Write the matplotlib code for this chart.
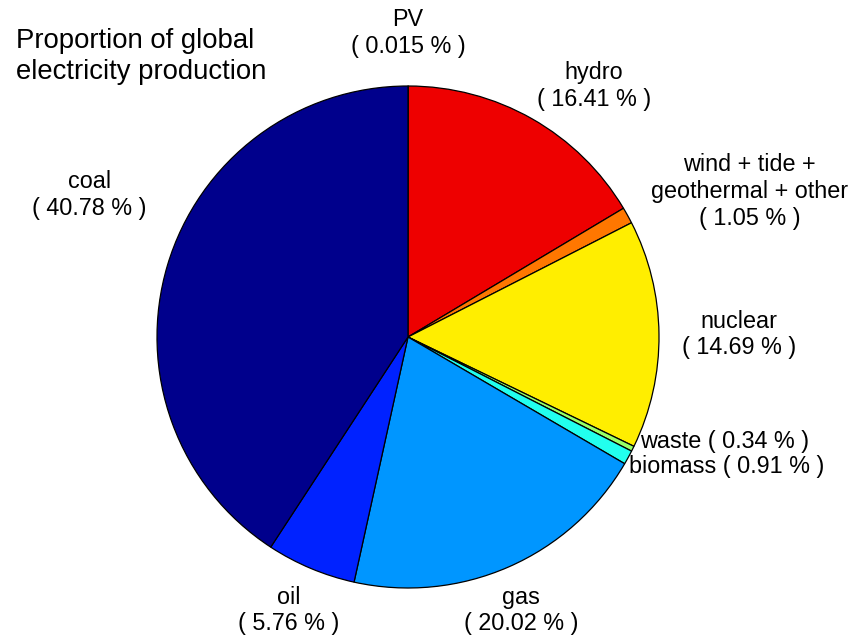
import matplotlib
matplotlib.use("Agg")
from matplotlib import pyplot as plt

plt.rcParams['font.family'] = ['Liberation Sans', 'DejaVu Sans']

# shares of global electricity production, clockwise from the top
sources = ['PV', 'hydro', 'wind + tide +\ngeothermal + other', 'nuclear',
           'waste', 'biomass', 'gas', 'oil', 'coal']
shares = [0.015, 16.41, 1.05, 14.69, 0.34, 0.91, 20.02, 5.76, 40.78]
share_text = ['0.015', '16.41', '1.05', '14.69', '0.34', '0.91', '20.02', '5.76', '40.78']

colors = ['#800000', '#ee0000', '#ff7700', '#ffee00', '#99ff66',
          '#22ffee', '#0096ff', '#0022ff', '#00008c']

# label centres (pie radius = 1, centre at origin)
label_pos = [(0.0, 1.21), (0.74, 1.0), (1.36, 0.58), (1.32, 0.01),
             (1.26, -0.415), (1.27, -0.515), (0.45, -1.09), (-0.475, -1.09),
             (-1.27, 0.565)]
inline = [False, False, False, False, True, True, False, False, False]

fig = plt.figure(figsize=(8.5, 6.39), dpi=100)
ax = fig.add_axes([0, 0, 1, 1])

ax.pie(shares, colors=colors, startangle=90, counterclock=False,
       wedgeprops=dict(edgecolor='black', linewidth=0.9))

for name, val, (x, y), one_line in zip(sources, share_text, label_pos, inline):
    sep = ' ' if one_line else '\n'
    ax.text(x, y, name + sep + '( ' + val + ' % )', ha='center', va='center',
            fontsize=16.8, linespacing=1.2)

ax.text(-1.56, 1.118, 'Proportion of global\nelectricity production',
        ha='left', va='center', fontsize=19.8, linespacing=1.28)

ax.set_xlim(-408 / 251, (850 - 408) / 251)
ax.set_ylim((337 - 639) / 251, 337 / 251)
ax.set_aspect('auto')
ax.axis('off')

fig.savefig('out.png', dpi=100)
